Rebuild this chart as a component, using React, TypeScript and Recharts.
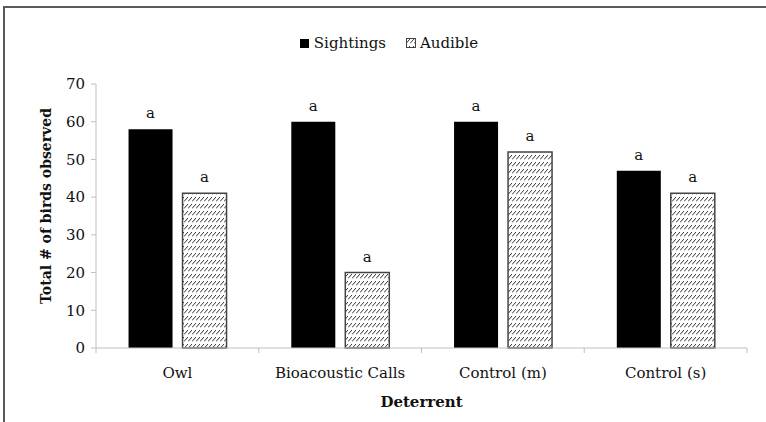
import React from "react";
import {
  BarChart,
  Bar,
  XAxis,
  YAxis,
  Legend,
  LabelList,
} from "recharts";

const deterrents = ["Owl", "Bioacoustic Calls", "Control (m)", "Control (s)"];
const sightings = [58, 60, 60, 47];
const audible = [41, 20, 52, 41];
const significance = ["a", "a", "a", "a"];
const yTicks = [0, 10, 20, 30, 40, 50, 60, 70];

const data = deterrents.map((name, i) => ({
  name,
  sightings: sightings[i],
  audible: audible[i],
  sigS: significance[i],
  sigA: significance[i],
}));

const W = 766;
const H = 422;
const X_AXIS_H = 30;
const MARGIN = { top: 84, right: 19, bottom: 74 - X_AXIS_H, left: 20 };
const Y_AXIS_W = 76;
const FONT = "'DejaVu Serif', serif";
const AXIS = "#bfbfbf";

const plotW = W - MARGIN.left - MARGIN.right - Y_AXIS_W;
const halfBand = plotW / deterrents.length / 2;

// category label plus the boundary tick marks Excel draws between groups
const CategoryTick = (props: any) => {
  const { x, y, payload, index } = props;
  const isLast = index === deterrents.length - 1;
  return (
    <g>
      <line x1={x - halfBand} x2={x - halfBand} y1={y} y2={y + 5} stroke={AXIS} />
      {isLast && (
        <line x1={x + halfBand} x2={x + halfBand} y1={y} y2={y + 5} stroke={AXIS} />
      )}
      <text
        x={x}
        y={y + 30}
        textAnchor="middle"
        fontFamily={FONT}
        fontSize={15}
        fill="#111"
      >
        {payload.value}
      </text>
    </g>
  );
};

const LegendContent = () => (
  <div
    style={{
      display: "flex",
      justifyContent: "center",
      alignItems: "center",
      fontFamily: FONT,
      fontSize: 15,
      color: "#111",
      marginLeft: 12,
    }}
  >
    <span style={{ display: "inline-block", width: 9, height: 9, background: "#000", marginRight: 5 }} />
    <span style={{ marginRight: 20 }}>Sightings</span>
    <svg width={10} height={10} style={{ marginRight: 4 }}>
      <rect x={0.5} y={0.5} width={9} height={9} fill="url(#hatch)" stroke="#444" />
    </svg>
    <span>Audible</span>
  </div>
);

export default function App() {
  return (
    <div style={{ position: "fixed", left: 0, top: 0, width: W, height: H, background: "#fff", overflow: "hidden" }}>
      <div
        style={{
          position: "absolute",
          left: 3,
          top: 6,
          width: W + 20,
          height: H + 20,
          borderLeft: "2px solid #5a5a5a",
          borderTop: "2px solid #5a5a5a",
        }}
      />
      <div style={{ position: "absolute", left: 0, top: 0 }}>
        <BarChart width={W} height={H} data={data} margin={MARGIN} barCategoryGap="20%" barGap={10}>
          <defs>
            <pattern id="hatch" patternUnits="userSpaceOnUse" width={4} height={7}>
              <rect width={4} height={7} fill="#fff" />
              <path d="M0,5.5 L4,1" stroke="#333" strokeWidth={1} />
            </pattern>
          </defs>
          <XAxis
            dataKey="name"
            height={X_AXIS_H}
            stroke={AXIS}
            tickLine={false}
            tickSize={0}
            tickMargin={0}
            tick={<CategoryTick />}
            interval={0}
            label={(p: any) => {
              const vb = p.viewBox;
              return (
                <text
                  x={vb.x + vb.width / 2}
                  y={407}
                  textAnchor="middle"
                  fontFamily={FONT}
                  fontSize={15}
                  fontWeight="bold"
                  fill="#111"
                >
                  Deterrent
                </text>
              );
            }}
          />
          <YAxis
            width={Y_AXIS_W}
            domain={[0, 70]}
            ticks={yTicks}
            stroke={AXIS}
            tickSize={5}
            tickMargin={6}
            tick={{ fontFamily: FONT, fontSize: 15, fill: "#111" }}
            label={() => (
              <text
                x={51}
                y={206}
                transform="rotate(-90 51 206)"
                textAnchor="middle"
                fontFamily={FONT}
                fontSize={14}
                fontWeight="bold"
                fill="#111"
              >
                Total # of birds observed
              </text>
            )}
          />
          <Legend
            verticalAlign="middle"
            content={<LegendContent />}
            wrapperStyle={{ top: 34, left: 0, width: W }}
          />
          <Bar dataKey="sightings" name="Sightings" fill="#000" isAnimationActive={false}>
            <LabelList dataKey="sigS" position="top" offset={11} fontFamily={FONT} fontSize={15} fill="#111" />
          </Bar>
          <Bar
            dataKey="audible"
            name="Audible"
            fill="url(#hatch)"
            stroke="#444"
            strokeWidth={1.5}
            isAnimationActive={false}
          >
            <LabelList dataKey="sigA" position="top" offset={11} fontFamily={FONT} fontSize={15} fill="#111" />
          </Bar>
        </BarChart>
      </div>
    </div>
  );
}
